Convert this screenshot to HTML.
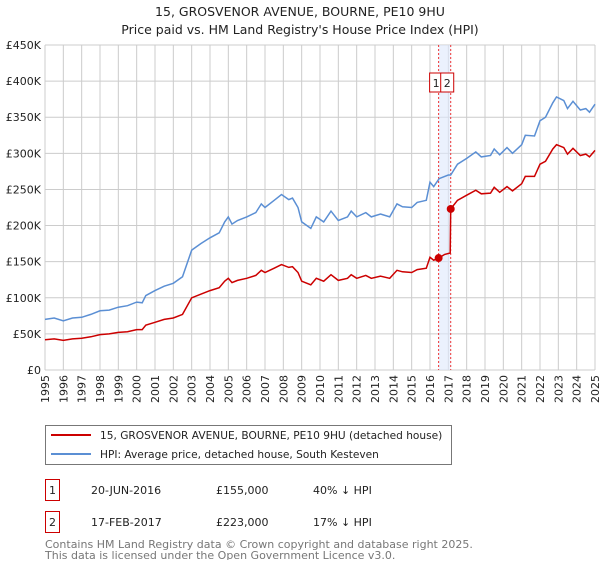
<!DOCTYPE html>
<html><head><meta charset="utf-8"><style>
body{margin:0;background:#fff;font-family:"Liberation Sans","DejaVu Sans",sans-serif;}
svg text{font-family:"DejaVu Sans","Liberation Sans",sans-serif;}
</style></head><body>
<svg id="c" width="600" height="560" xmlns="http://www.w3.org/2000/svg">
<text x="300" y="16" text-anchor="middle" font-size="12.5" fill="#222">15, GROSVENOR AVENUE, BOURNE, PE10 9HU</text>
<text x="300" y="34" text-anchor="middle" font-size="12.5" fill="#222">Price paid vs. HM Land Registry's House Price Index (HPI)</text>
<g id="grid"></g><g id="marks"></g>
<rect x="45.5" y="425.5" width="406" height="39" fill="#fff" stroke="#777"/>
<line x1="51" y1="435" x2="91" y2="435" stroke="#cc0000" stroke-width="2"/>
<text x="100" y="439" font-size="10.6" fill="#222">15, GROSVENOR AVENUE, BOURNE, PE10 9HU (detached house)</text>
<line x1="51" y1="454" x2="91" y2="454" stroke="#5b8fd4" stroke-width="2"/>
<text x="100" y="458" font-size="10.6" fill="#222">HPI: Average price, detached house, South Kesteven</text>
<g font-size="11" fill="#222">
<rect x="45.5" y="479.5" width="14" height="21" fill="none" stroke="#cc0000"/><text x="52.5" y="494" text-anchor="middle">1</text>
<text x="91" y="494">20-JUN-2016</text><text x="216" y="494">£155,000</text><text x="313" y="494">40% ↓ HPI</text></g>
<g font-size="11" fill="#222">
<rect x="45.5" y="511.5" width="14" height="21" fill="none" stroke="#cc0000"/><text x="52.5" y="526" text-anchor="middle">2</text>
<text x="91" y="526">17-FEB-2017</text><text x="216" y="526">£223,000</text><text x="313" y="526">17% ↓ HPI</text></g>
<text x="45" y="548" font-size="11" fill="#777">Contains HM Land Registry data © Crown copyright and database right 2025.</text>
<text x="45" y="559" font-size="11" fill="#777">This data is licensed under the Open Government Licence v3.0.</text>
</svg>
<script>
const yTicks=[0,50,100,150,200,250,300,350,400,450];
const yTickLabels=["£0","£50K","£100K","£150K","£200K","£250K","£300K","£350K","£400K","£450K"];
const years=[1995,1996,1997,1998,1999,2000,2001,2002,2003,2004,2005,2006,2007,2008,2009,2010,2011,2012,2013,2014,2015,2016,2017,2018,2019,2020,2021,2022,2023,2024,2025];
const hpiDates=[1995,1995.5,1996,1996.5,1997,1997.5,1998,1998.5,1999,1999.5,2000,2000.3,2000.5,2001,2001.5,2002,2002.5,2003,2003.5,2004,2004.5,2004.8,2005,2005.2,2005.5,2006,2006.5,2006.8,2007,2007.5,2007.9,2008.3,2008.5,2008.8,2009,2009.5,2009.8,2010.2,2010.6,2011,2011.5,2011.7,2012,2012.5,2012.8,2013.3,2013.8,2014.2,2014.5,2015,2015.3,2015.8,2016,2016.2,2016.5,2017,2017.13,2017.5,2018,2018.5,2018.8,2019.3,2019.5,2019.8,2020.2,2020.5,2021,2021.2,2021.7,2022,2022.3,2022.7,2022.9,2023.3,2023.5,2023.8,2024.2,2024.5,2024.7,2025];
const hpiValues=[70,72,68,72,73,77,82,83,87,89,94,93,103,110,116,120,129,166,175,183,190,205,212,202,207,212,218,230,225,235,243,236,238,225,205,196,212,205,220,207,212,220,212,218,212,216,212,230,226,225,232,235,260,254,265,270,270,285,293,302,295,297,306,298,308,300,312,325,324,345,350,370,378,373,362,372,360,362,357,368];
const priceDates=[1995,1995.5,1996,1996.5,1997,1997.5,1998,1998.5,1999,1999.5,2000,2000.3,2000.5,2001,2001.5,2002,2002.5,2003,2003.5,2004,2004.5,2004.8,2005,2005.2,2005.5,2006,2006.5,2006.8,2007,2007.5,2007.9,2008.3,2008.5,2008.8,2009,2009.5,2009.8,2010.2,2010.6,2011,2011.5,2011.7,2012,2012.5,2012.8,2013.3,2013.8,2014.2,2014.5,2015,2015.3,2015.8,2016,2016.2,2016.47,2016.8,2017.1,2017.13,2017.5,2018,2018.5,2018.8,2019.3,2019.5,2019.8,2020.2,2020.5,2021,2021.2,2021.7,2022,2022.3,2022.7,2022.9,2023.3,2023.5,2023.8,2024.2,2024.5,2024.7,2025];
const priceValues=[42,43,41,43,44,46,49,50,52,53,56,56,62,66,70,72,77,100,105,110,114,123,127,121,124,127,131,138,135,141,146,142,143,135,123,118,127,123,132,124,127,132,127,131,127,130,127,138,136,135,139,141,156,152,155,160,162,223,235,242,249,244,245,253,246,254,248,258,268,268,285,289,306,312,308,299,307,297,299,295,304];
const saleDates=[2016.47,2017.13];
const saleValues=[155,223];
const saleLabels=["1","2"];
const NS="http://www.w3.org/2000/svg";
const L=45,R=595,T=45,B=370;
const xs=d=>L+(d-1995)/30*(R-L);
const ys=v=>B-v/450*(B-T);
function mk(tag,attrs,parent,txt){const e=document.createElementNS(NS,tag);for(const k in attrs)e.setAttribute(k,attrs[k]);if(txt!==undefined)e.textContent=txt;parent.appendChild(e);return e;}
const g=document.getElementById('grid'),m=document.getElementById('marks');
yTicks.forEach((v,i)=>{
 const ln=mk('line',{x1:L,x2:R,y1:ys(v),y2:ys(v),stroke:'#ccc','stroke-width':1},g);
 
 
 const t=mk('text',{x:L-4,y:ys(v)+4,'text-anchor':'end','font-size':11,fill:'#222'},g,yTickLabels[i]);
 
 
});
years.forEach(y=>{
 const ln=mk('line',{x1:xs(y),x2:xs(y),y1:T,y2:B,stroke:'#ccc','stroke-width':1},g);
 
 
 const t=mk('text',{x:0,y:0,'text-anchor':'end','font-size':11,fill:'#222',transform:`translate(${xs(y)+4},${B+5}) rotate(-90)`},g,String(y));
 
 
});
const sh=mk('rect',{x:xs(saleDates[0]),y:T,width:xs(saleDates[1])-xs(saleDates[0]),height:B-T,fill:'#dde8fb','fill-opacity':0.6},m);


saleDates.forEach((d,i)=>{
 const ln=mk('line',{x1:xs(d),x2:xs(d),y1:T,y2:B,stroke:'#e33','stroke-width':1,'stroke-dasharray':'2,2'},m);
 
 
});
const hp=mk('path',{d:hpiDates.map((d,i)=>(i?'L':'M')+xs(d).toFixed(1)+','+ys(hpiValues[i]).toFixed(1)).join(''),fill:'none',stroke:'#5b8fd4','stroke-width':1.5},m);


const pp=mk('path',{d:priceDates.map((d,i)=>(i?'L':'M')+xs(d).toFixed(1)+','+ys(priceValues[i]).toFixed(1)).join(''),fill:'none',stroke:'#cc0000','stroke-width':1.5},m);


saleDates.forEach((d,i)=>{
 const c=mk('circle',{cx:xs(d),cy:ys(saleValues[i]),r:4,fill:'#cc0000'},m);
 
 
 const bx=i===0?xs(d)-9:xs(d)-10;
 const r=mk('rect',{x:bx,y:73,width:13,height:19,fill:'#fff',stroke:'#cc0000'},m);
 
 
 const t=mk('text',{x:bx+6.5,y:87,'text-anchor':'middle','font-size':11,fill:'#222'},m,saleLabels[i]);
 
 
});
</script>
</body></html>
